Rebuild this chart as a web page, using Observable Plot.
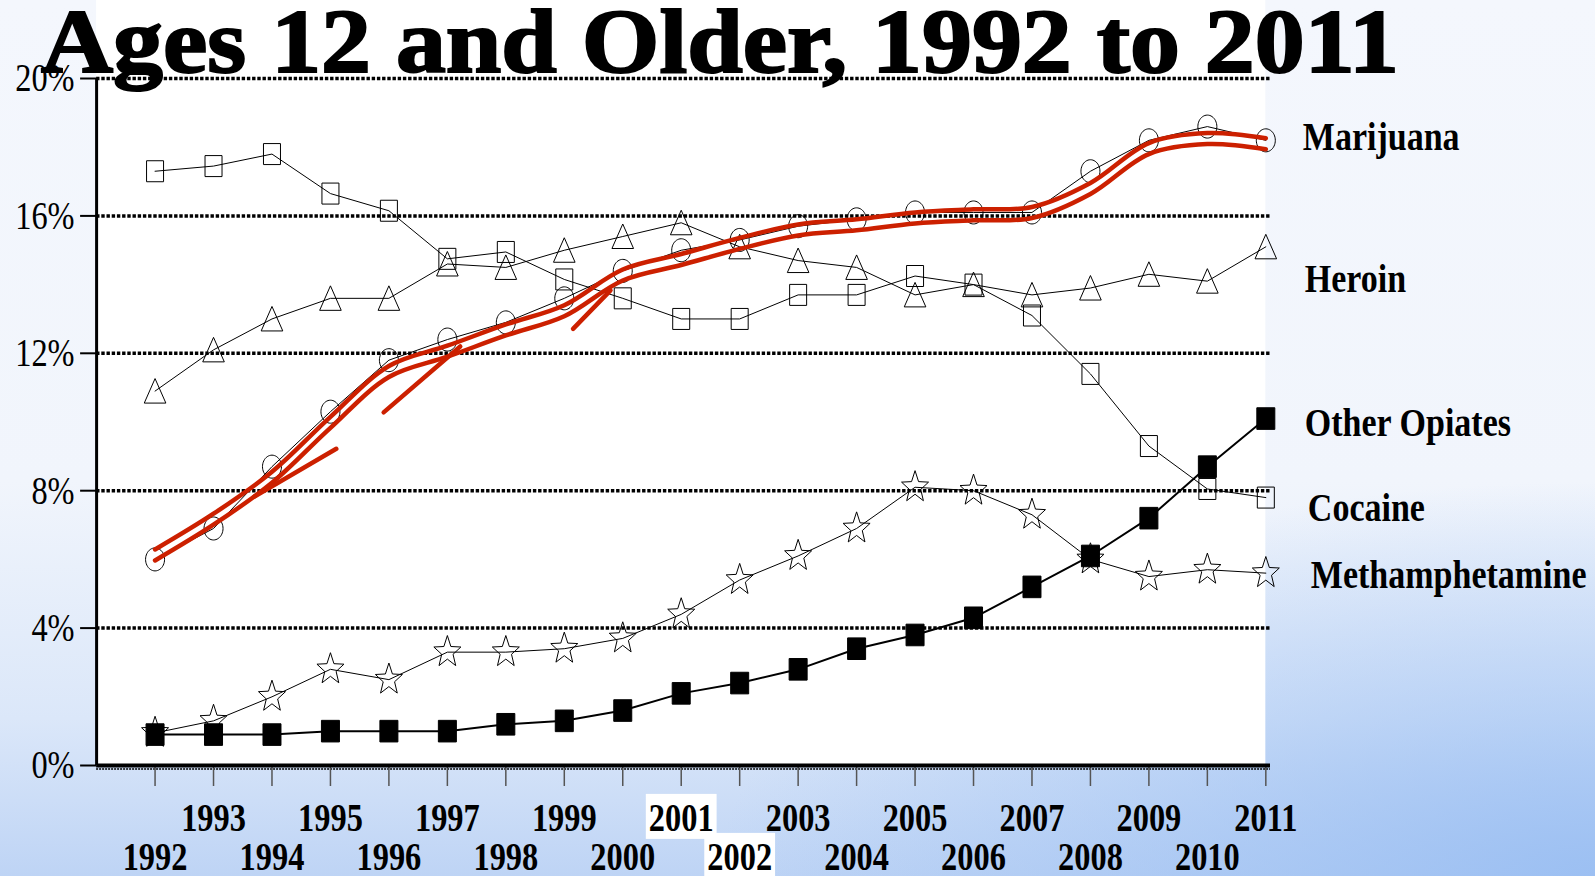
<!DOCTYPE html>
<html>
<head>
<meta charset="utf-8">
<script src="https://cdn.jsdelivr.net/npm/d3@7"></script>
<script src="https://cdn.jsdelivr.net/npm/@observablehq/plot@0.6"></script>
<style>
  html, body { margin: 0; padding: 0; }
  body {
    width: 1595px; height: 876px; overflow: hidden;
    background:
      radial-gradient(ellipse 55% 45% at 100% 100%, rgba(150,188,242,0.85), rgba(150,188,242,0) 100%),
      linear-gradient(to bottom, #f4f7fd 0%, #f1f5fc 55%, #dbe7f9 82%, #bed4f5 100%);
  }
  #wrap { position: relative; width: 1595px; height: 876px; }
  #chart { position: absolute; left: 0; top: 0; }
  #title {
    position: absolute; left: 41px; top: -3px; z-index: 2;
    font: bold 90px/1 "Liberation Serif", "Times New Roman", serif;
    white-space: nowrap; color: #000;
    -webkit-text-stroke: 2px #000;
    transform-origin: 0 0; transform: scaleX(1.0);
  }
</style>
</head>
<body>
<div id="wrap">
  <div id="chart"></div>
  <div id="title">Ages 12 and Older, 1992 to 2011</div>
</div>
<script>
// ---- data (percent) ----
const years = [1992,1993,1994,1995,1996,1997,1998,1999,2000,2001,2002,2003,2004,2005,2006,2007,2008,2009,2010,2011];
const marijuana       = [6.0, 6.9, 8.7, 10.3, 11.8, 12.4, 12.9, 13.6, 14.4, 15.0, 15.3, 15.7, 15.9, 16.1, 16.1, 16.1, 17.3, 18.2, 18.6, 18.2];
const heroin          = [10.9, 12.1, 13.0, 13.6, 13.6, 14.6, 14.5, 15.0, 15.4, 15.8, 15.1, 14.7, 14.5, 13.7, 14.0, 13.7, 13.9, 14.3, 14.1, 15.1];
const otherOpiates    = [0.9, 0.9, 0.9, 1.0, 1.0, 1.0, 1.2, 1.3, 1.6, 2.1, 2.4, 2.8, 3.4, 3.8, 4.3, 5.2, 6.1, 7.2, 8.7, 10.1];
const cocaine         = [17.3, 17.45, 17.8, 16.65, 16.15, 14.75, 14.95, 14.15, 13.6, 13.0, 13.0, 13.7, 13.7, 14.25, 14.0, 13.1, 11.4, 9.3, 8.05, 7.8];
const methamphetamine = [0.95, 1.3, 2.0, 2.8, 2.5, 3.3, 3.3, 3.4, 3.7, 4.4, 5.4, 6.1, 6.9, 8.1, 8.0, 7.3, 6.0, 5.5, 5.7, 5.6];

// hand-drawn red annotation following marijuana
const redPath = [6.13, 7.17, 8.39, 9.99, 11.47, 12.06, 12.68, 13.24, 14.28, 14.73, 15.2, 15.59, 15.74, 15.94, 16.03, 16.1, 16.8, 17.96, 18.25, 18.1];
const redStrokes = [
  {id: 1, x: 1993.7, y: 7.83}, {id: 1, x: 1995.1, y: 9.22},
  {id: 2, x: 1995.91, y: 10.28}, {id: 2, x: 1997.22, y: 12.2},
  {id: 3, x: 1999.15, y: 12.71}, {id: 3, x: 1999.79, y: 13.83}
];

const yTicks = [0, 4, 8, 12, 16, 20];
const gridValues = [4, 8, 12, 16, 20];
const oddYears = years.filter(y => y % 2 === 1);
const evenYears = years.filter(y => y % 2 === 0);
const seriesNames = ["Marijuana", "Heroin", "Other Opiates", "Cocaine", "Methamphetamine"];

// ---- styles ----
const FONT = '"Liberation Serif", "Times New Roman", serif';
const RED = "#cc2000";

function poly(points) {
  return {draw(ctx) {
    points.forEach(([px, py], i) => i ? ctx.lineTo(px, py) : ctx.moveTo(px, py));
    ctx.closePath();
  }};
}
const ellipseSym = poly(d3.range(48).map(i => {
  const a = i / 48 * 2 * Math.PI; return [9.5 * Math.cos(a), 11.5 * Math.sin(a)];
}));
const squareSym = poly([[-8.5, -10.5], [8.5, -10.5], [8.5, 10.5], [-8.5, 10.5]]);
const filledSquareSym = poly([[-9, -10.8], [9, -10.8], [9, 10.8], [-9, 10.8]]);
const triangleSym = poly([[0, -12.5], [10.8, 12], [-10.8, 12]]);
const starSym = poly(d3.range(10).map(i => {
  const a = -Math.PI / 2 + i * Math.PI / 5;
  const rad = i % 2 ? 14.2 * 0.42 : 14.2;
  return [rad * Math.cos(a), rad * Math.sin(a) * 1.17];
}));

const series = [
  {name: "Marijuana", values: marijuana, symbol: ellipseSym, fill: "none", sw: 1, label: {dx: 37, dy: -3}},
  {name: "Heroin", values: heroin, symbol: triangleSym, fill: "none", sw: 1, label: {dx: 39, dy: 32}},
  {name: "Other Opiates", values: otherOpiates, symbol: filledSquareSym, fill: "black", sw: 2, label: {dx: 39, dy: 5}},
  {name: "Cocaine", values: cocaine, symbol: squareSym, fill: "none", sw: 1, label: {dx: 42, dy: 11}},
  {name: "Methamphetamine", values: methamphetamine, symbol: starSym, fill: "none", sw: 1, label: {dx: 45, dy: 2}}
];

const seriesMarks = series.flatMap(s => [
  Plot.line(years, {x: d => d, y: (d, i) => s.values[i], stroke: "black", strokeWidth: s.sw}),
  Plot.dot(years, {x: d => d, y: (d, i) => s.values[i], symbol: s.symbol, fill: s.fill, stroke: "black", strokeWidth: 1})
]);

const labelMarks = series.map((s, k) => Plot.text([seriesNames[k]], {
  x: () => years[years.length - 1],
  y: () => s.values[s.values.length - 1],
  text: d => d,
  textAnchor: "start", dx: s.label.dx, dy: s.label.dy,
  fontSize: 40, fontWeight: "bold", fontFamily: FONT, fill: "black"
}));

const chart = Plot.plot({
  width: 1595, height: 876,
  marginLeft: 96.1, marginRight: 325, marginTop: 78, marginBottom: 111,
  x: {domain: [1991, 2011.08]},
  y: {domain: [0, 20]},
  style: {background: "transparent", fontFamily: FONT, overflow: "visible"},
  marks: [
    Plot.ruleY(gridValues, {stroke: "black", strokeWidth: 3.5, strokeDasharray: "3.4,1.8"}),
    Plot.ruleY([0], {stroke: "black", strokeWidth: 1.5, strokeDasharray: "2,1", dy: 3.5}),
    Plot.axisX({ticks: years, tickSize: 21, tickFormat: () => "", stroke: "#555", strokeWidth: 1.5, label: null}),
    Plot.axisX({ticks: oddYears, tickSize: 0, tickPadding: 37, tickFormat: d => String(d), fontSize: 40, fontWeight: "bold", fontFamily: FONT, fill: "black", label: null}),
    Plot.axisX({ticks: evenYears, tickSize: 0, tickPadding: 76, tickFormat: d => String(d), fontSize: 40, fontWeight: "bold", fontFamily: FONT, fill: "black", label: null}),
    Plot.axisY({ticks: yTicks, tickSize: 16, tickPadding: 6, tickFormat: d => d + "%", fontSize: 40, fontFamily: FONT, stroke: "black", strokeWidth: 2, fill: "black", label: null}),
    Plot.ruleY([0], {stroke: "black", strokeWidth: 4}),
    Plot.ruleX([1991], {stroke: "black", strokeWidth: 3}),
    ...seriesMarks,
    Plot.line(years, {x: d => d, y: (d, i) => redPath[i], dy: -5.5, stroke: RED, strokeWidth: 4.5, curve: "catmull-rom", strokeLinecap: "round"}),
    Plot.line(years, {x: d => d, y: (d, i) => redPath[i], dy: 5.5, stroke: RED, strokeWidth: 4.5, curve: "catmull-rom", strokeLinecap: "round"}),
    Plot.line(redStrokes, {x: "x", y: "y", z: "id", stroke: RED, strokeWidth: 4.5, strokeLinecap: "round"}),
    ...labelMarks
  ]
});

document.getElementById("chart").appendChild(chart);
const svg = chart.tagName.toLowerCase() === "svg" ? chart : chart.querySelector("svg");

// white plotting area, reaching the top of the slide
const sx = chart.scale("x"), sy = chart.scale("y");
const bg = document.createElementNS("http://www.w3.org/2000/svg", "rect");
bg.setAttribute("x", sx.apply(1991));
bg.setAttribute("y", 0);
bg.setAttribute("width", sx.apply(years[years.length - 1]) - sx.apply(1991));
bg.setAttribute("height", sy.apply(0));
bg.setAttribute("fill", "white");
svg.insertBefore(bg, svg.firstChild.nextSibling);

// horizontally condensed lettering, as in the original
svg.querySelectorAll("text").forEach(t => {
  const s = t.textContent;
  if (!s) return;
  const isLabel = seriesNames.includes(s);
  const k = isLabel ? 0.85 : 0.81;
  const L = t.getComputedTextLength();
  t.setAttribute("textLength", L * k);
  t.setAttribute("lengthAdjust", "spacingAndGlyphs");
});

// white boxes behind two tick labels
svg.querySelectorAll("text").forEach(t => {
  if (t.textContent === "2001" || t.textContent === "2002") {
    const b = t.getBBox();
    const r = document.createElementNS("http://www.w3.org/2000/svg", "rect");
    r.setAttribute("x", b.x - 3); r.setAttribute("y", b.y - 1);
    r.setAttribute("width", b.width + 6); r.setAttribute("height", b.height);
    r.setAttribute("fill", "white");
    if (t.getAttribute("transform")) r.setAttribute("transform", t.getAttribute("transform"));
    t.parentNode.insertBefore(r, t);
  }
});

// fit the title to the width it has in the original slide
const title = document.getElementById("title");
const tw = title.getBoundingClientRect().width;
title.style.transform = `scaleX(${1358 / tw})`;
</script>
</body>
</html>
